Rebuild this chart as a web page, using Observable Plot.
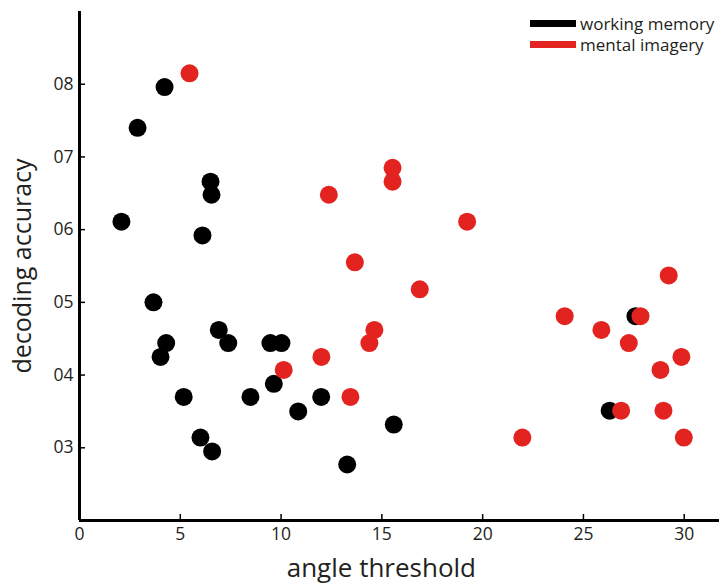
<!DOCTYPE html>
<html>
<head>
<meta charset="utf-8">
<script src="https://cdn.jsdelivr.net/npm/d3@7"></script>
<script src="https://cdn.jsdelivr.net/npm/@observablehq/plot@0.6"></script>
<style>
  body { margin: 0; background: #fff; }
  #wrap { position: relative; width: 719px; height: 585px; overflow: hidden; font-family: "Open Sans", sans-serif; color: #231f20; }
  #wrap svg { position: absolute; left: 0; top: 0; }
  #wrap svg [aria-label="y-axis label"] text { font-size: 25px; }
  .legend { position: absolute; left: 530px; top: 13px; font-size: 17px; line-height: 21px; }
  .legend .row { display: flex; align-items: center; white-space: nowrap; }
  .legend .sw { width: 46px; height: 7px; margin-right: 4px; }
</style>
</head>
<body>
<div id="wrap"></div>
<script>
// ---- data ----
const seriesNames = ["working memory", "mental imagery"];
const seriesColors = ["#000000", "#e2231f"];

const wmAngle    = [2.08, 2.88, 4.22, 6.50, 6.55, 6.10, 3.67, 4.30, 4.02, 6.91, 7.38, 5.17, 8.48, 9.47, 10.02, 9.64, 10.85, 11.99, 6.00, 6.58, 13.28, 15.59, 26.30, 27.58];
const wmAccuracy = [0.611, 0.740, 0.796, 0.666, 0.648, 0.592, 0.500, 0.444, 0.425, 0.462, 0.444, 0.370, 0.370, 0.444, 0.444, 0.388, 0.350, 0.370, 0.314, 0.295, 0.277, 0.332, 0.351, 0.481];

const miAngle    = [5.46, 12.37, 13.66, 15.53, 15.53, 19.23, 16.88, 29.23, 10.13, 12.00, 13.44, 14.63, 14.38, 21.97, 24.07, 25.89, 27.25, 27.83, 26.87, 29.86, 28.82, 28.97, 29.98];
const miAccuracy = [0.815, 0.648, 0.555, 0.685, 0.666, 0.611, 0.518, 0.537, 0.407, 0.425, 0.370, 0.462, 0.444, 0.314, 0.481, 0.462, 0.444, 0.481, 0.351, 0.425, 0.407, 0.351, 0.314];

const xTicks = [0, 5, 10, 15, 20, 25, 30];
const xTickLabels = ["0", "5", "10", "15", "20", "25", "30"];
const yTicks = [0.3, 0.4, 0.5, 0.6, 0.7, 0.8];
const yTickLabels = ["03", "04", "05", "06", "07", "08"];

const xTitle = "angle threshold";
const yTitle = "decoding accuracy";

// ---- tables ----
const wm = wmAngle.map((a, i) => ({angle: a, acc: wmAccuracy[i]}));
const mi = miAngle.map((a, i) => ({angle: a, acc: miAccuracy[i]}));

const ink = "#231f20";

const chart = Plot.plot({
  width: 719,
  height: 585,
  marginLeft: 79,
  marginRight: 0,
  marginTop: 11,
  marginBottom: 65,
  style: {fontFamily: "'Open Sans', sans-serif", fontSize: "17.5px", color: ink, background: "#fff"},
  x: {domain: [0, 31.75]},
  y: {domain: [0.2, 0.9]},
  marks: [
    Plot.axisX({ticks: xTicks, tickSize: 0, tickPadding: 7, tickFormat: d => xTickLabels[xTicks.indexOf(d)], label: null, fill: ink}),
    Plot.axisX({ticks: xTicks, tickSize: 6, insetBottom: 6, strokeWidth: 1.5, stroke: "#000", tickFormat: () => "", label: null}),
    Plot.axisY({ticks: yTicks, tickSize: 0, tickPadding: 6, tickFormat: d => yTickLabels[yTicks.findIndex(t => Math.abs(t - d) < 1e-9)], fill: ink,
                label: yTitle, labelAnchor: "center", labelArrow: "none", labelOffset: 66}),
    Plot.axisY({ticks: yTicks, tickSize: 6, insetLeft: 6, strokeWidth: 1.5, stroke: "#000", tickFormat: () => "", label: null}),
    Plot.ruleX([0], {stroke: "#000", strokeWidth: 3}),
    Plot.ruleY([0.2], {stroke: "#000", strokeWidth: 3}),
    Plot.dot(wm, {x: "angle", y: "acc", r: 9, fill: seriesColors[0]}),
    Plot.dot(mi, {x: "angle", y: "acc", r: 9, fill: seriesColors[1]})
  ]
});

const wrap = document.getElementById("wrap");
wrap.appendChild(chart);

// x axis title, centred on the 0–30 span
const sx = chart.scale("x");
const cx = (sx.apply(xTicks[0]) + sx.apply(xTicks[xTicks.length - 1])) / 2;
d3.select(chart).append("text")
  .attr("x", cx).attr("y", 577)
  .attr("text-anchor", "middle")
  .attr("fill", ink)
  .style("font-size", "26px")
  .text(xTitle);

// legend
const legend = document.createElement("div");
legend.className = "legend";
seriesNames.forEach((name, i) => {
  const row = document.createElement("div");
  row.className = "row";
  const sw = document.createElement("span");
  sw.className = "sw";
  sw.style.background = seriesColors[i];
  const lab = document.createElement("span");
  lab.textContent = name;
  row.appendChild(sw);
  row.appendChild(lab);
  legend.appendChild(row);
});
wrap.appendChild(legend);
</script>
</body>
</html>
